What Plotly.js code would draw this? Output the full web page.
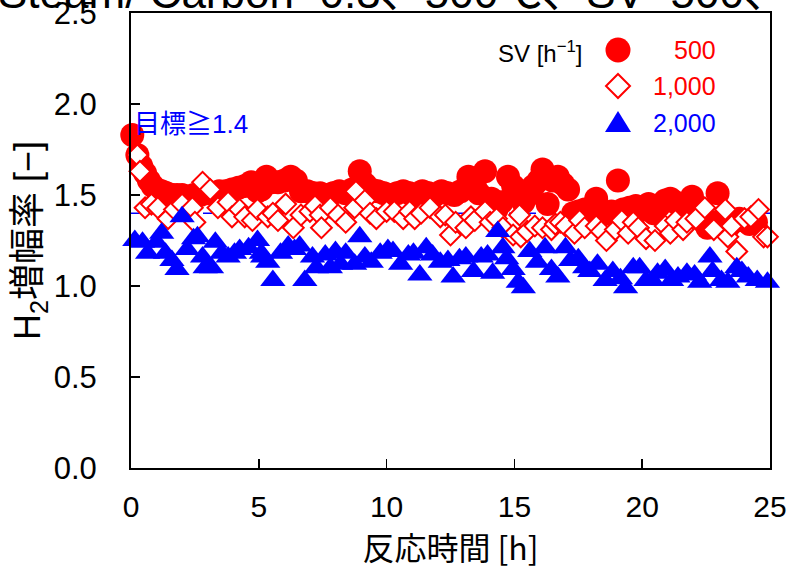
<!DOCTYPE html>
<html>
<head>
<meta charset="utf-8">
<script src="https://cdn.plot.ly/plotly-3.0.1.min.js"></script>
<style>html,body{margin:0;padding:0;background:#fff;}#chart{width:789px;height:573px;}</style>
</head>
<body>
<div id="chart"></div>
<script>
// ---- data ----
const seriesNames = ["500", "1,000", "2,000"];
const legendTitle = "SV [h<sup>−1</sup>]";
const titleText = "Steam/ Carbon=0.3、500℃、SV=500、";
const xTitle = "反応時間 [h]";
const yTitle = "H<sub>2</sub>増幅率 [−]";
const targetValue = 1.4;
const targetLabel = "目標≧1.4";

const x500 = [0.05,0.25,0.4,0.55,0.7,0.85,1.0,1.2,1.4,1.6,1.8,2.0,2.2,2.45,2.7,2.95,3.2,3.45,3.7,3.95,4.2,4.45,4.7,4.95,5.1,5.3,5.5,5.75,6.0,6.25,6.45,6.65,6.9,7.15,7.4,7.65,7.9,8.15,8.4,8.65,8.95,9.15,9.4,9.65,9.9,10.15,10.4,10.65,10.9,11.15,11.4,11.65,11.9,12.15,12.4,12.65,12.9,13.2,13.45,13.6,13.85,14.1,14.3,14.5,14.75,14.95,15.15,15.35,15.55,15.75,15.95,16.1,16.3,16.5,16.7,16.9,17.1,17.3,17.5,17.75,18.0,18.2,18.4,18.6,18.8,19.05,19.25,19.5,19.75,20.0,20.25,20.45,20.65,20.9,21.1,21.3,21.55,21.75,21.95,22.15,22.35,22.55,22.75,22.95,23.15,23.35,23.55,23.8,24.0,24.2,24.45];
const y500 = [1.83,1.72,1.66,1.62,1.58,1.55,1.53,1.52,1.51,1.50,1.50,1.50,1.49,1.50,1.50,1.51,1.51,1.52,1.52,1.53,1.54,1.55,1.57,1.52,1.53,1.60,1.57,1.57,1.58,1.60,1.58,1.52,1.52,1.51,1.51,1.50,1.51,1.52,1.51,1.53,1.63,1.56,1.53,1.52,1.51,1.50,1.51,1.52,1.51,1.50,1.52,1.51,1.50,1.52,1.51,1.50,1.52,1.60,1.55,1.51,1.63,1.48,1.42,1.46,1.60,1.55,1.50,1.46,1.50,1.55,1.58,1.64,1.45,1.58,1.60,1.56,1.53,1.40,1.41,1.42,1.40,1.48,1.41,1.40,1.41,1.58,1.42,1.43,1.44,1.42,1.45,1.40,1.44,1.47,1.48,1.46,1.37,1.43,1.49,1.41,1.36,1.32,1.35,1.51,1.33,1.32,1.35,1.37,1.36,1.34,1.35];

const x1000 = [0.25,0.35,0.55,0.8,1.05,1.45,1.7,2.0,2.4,2.5,2.8,3.1,3.4,3.8,3.95,4.25,4.45,4.75,4.95,5.35,5.55,5.75,6.05,6.35,6.65,7.0,7.2,7.4,7.45,7.8,8.1,8.4,8.75,8.8,9.15,9.35,9.6,10.0,10.3,10.65,10.9,11.1,11.35,11.7,12.1,12.3,12.5,12.7,13.1,13.3,13.45,13.85,14.05,14.3,14.55,14.95,15.2,15.25,15.5,15.8,16.1,16.45,16.6,16.8,17.0,17.35,17.55,17.75,18.2,18.4,18.6,18.95,19.2,19.45,19.65,19.85,20.15,20.5,20.9,21.1,21.3,21.6,21.75,22.1,22.45,22.8,23.25,23.35,23.5,23.7,24.0,24.25,24.55,24.75,24.9];
const y1000 = [1.72,1.63,1.43,1.45,1.43,1.37,1.42,1.45,1.43,1.35,1.57,1.53,1.43,1.46,1.38,1.42,1.38,1.36,1.42,1.38,1.40,1.36,1.45,1.32,1.39,1.41,1.44,1.39,1.32,1.43,1.39,1.35,1.43,1.52,1.47,1.40,1.37,1.41,1.41,1.37,1.41,1.37,1.40,1.43,1.38,1.39,1.28,1.35,1.32,1.38,1.36,1.41,1.35,1.37,1.32,1.28,1.39,1.27,1.30,1.33,1.32,1.31,1.34,1.35,1.33,1.29,1.36,1.32,1.33,1.30,1.25,1.31,1.36,1.29,1.35,1.32,1.26,1.25,1.33,1.29,1.36,1.31,1.35,1.37,1.43,1.31,1.42,1.27,1.33,1.19,1.37,1.38,1.42,1.27,1.27];

const x2000 = [0.15,0.45,0.65,1.0,1.2,1.35,1.6,1.8,2.0,2.2,2.45,2.6,2.8,2.9,3.15,3.3,3.55,3.8,4.05,4.25,4.6,4.95,5.1,5.15,5.35,5.55,5.85,6.15,6.4,6.6,6.8,7.1,7.25,7.6,7.8,8.0,8.2,8.4,8.75,8.95,9.15,9.4,9.75,10.05,10.25,10.55,10.85,11.05,11.3,11.55,11.8,12.1,12.4,12.6,12.85,13.1,13.4,13.7,13.95,14.15,14.35,14.55,14.7,14.95,15.15,15.35,15.6,15.9,16.2,16.45,16.7,17.0,17.2,17.5,17.75,17.95,18.25,18.55,18.85,19.15,19.35,19.65,19.9,20.15,20.4,20.6,20.9,21.15,21.4,21.75,22.05,22.25,22.65,22.75,23.1,23.35,23.7,23.9,24.15,24.5,24.9];
const y2000 = [1.25,1.24,1.18,1.24,1.29,1.18,1.14,1.09,1.38,1.20,1.26,1.27,1.16,1.10,1.10,1.24,1.18,1.16,1.18,1.20,1.21,1.25,1.18,1.16,1.13,1.03,1.18,1.22,1.20,1.22,1.03,1.16,1.10,1.17,1.10,1.19,1.12,1.18,1.12,1.27,1.16,1.13,1.18,1.20,1.19,1.12,1.17,1.18,1.06,1.21,1.17,1.13,1.14,1.05,1.15,1.16,1.08,1.16,1.17,1.07,1.30,1.21,1.15,1.09,1.02,0.99,1.19,1.13,1.21,1.09,1.05,1.21,1.14,1.15,1.10,1.08,1.12,1.03,1.08,1.04,0.99,1.10,1.10,1.03,1.03,1.07,1.09,1.03,1.05,1.07,1.06,1.02,1.16,1.08,1.03,1.02,1.10,1.08,1.05,1.03,1.02];

// ---- styling ----
const RED = "#ff0000", BLUE = "#0000ff";
const latin = "Liberation Sans, Arial, Noto Sans CJK JP, sans-serif";
const narrow = "Liberation Sans Narrow, Liberation Sans, sans-serif";
const cjk = "Noto Sans CJK JP, Liberation Sans, sans-serif";

const traces = [
  {x: x500, y: y500, name: seriesNames[0], type: "scatter", mode: "markers", cliponaxis: false,
   marker: {symbol: "circle", size: 24, color: RED, line: {width: 0}}},
  {x: x1000, y: y1000, name: seriesNames[1], type: "scatter", mode: "markers", cliponaxis: false,
   marker: {symbol: "diamond", size: 16, color: "#ffffff", line: {width: 2, color: RED}}},
  {x: x2000, y: y2000, name: seriesNames[2], type: "scatter", mode: "markers", cliponaxis: false,
   marker: {symbol: "triangle-up", size: 22, color: BLUE, line: {width: 0}}}
];

const W = 789, H = 573, L = 131, R = 19, T = 13, B = 105;
const pw = W - L - R, ph = H - T - B;
const px = v => (v - L) / pw;          // page pixel -> paper x
const py = v => (H - B - v) / ph;      // page pixel -> paper y

const legendRows = [
  {label: seriesNames[0], color: RED, y: 50},
  {label: seriesNames[1], color: RED, y: 86},
  {label: seriesNames[2], color: BLUE, y: 123}
];
const symX = 618, textRight = 718;

const annotations = [
  {text: titleText, xref: "paper", yref: "paper", x: px(-4), y: py(19), xanchor: "left", yanchor: "bottom",
   showarrow: false, font: {family: latin, size: 44, color: "#000"}},
  {text: targetLabel, xref: "x", yref: "y", x: 0.02, y: 1.89, xanchor: "left", yanchor: "middle",
   showarrow: false, font: {family: latin, size: 26, color: BLUE}},
  {text: legendTitle, xref: "paper", yref: "paper", x: px(585), y: py(52), xanchor: "right", yanchor: "middle",
   showarrow: false, font: {family: latin, size: 24, color: "#000"}}
];
legendRows.forEach(r => annotations.push({
  text: r.label, xref: "paper", yref: "paper", x: px(textRight), y: py(r.y), xanchor: "right", yanchor: "middle",
  showarrow: false, font: {family: latin, size: 25, color: r.color}
}));

const shapes = [
  {type: "line", xref: "x", yref: "y", x0: 0, x1: 25, y0: targetValue, y1: targetValue, layer: "below",
   line: {color: BLUE, width: 1.5, dash: "dash"}},
  {type: "circle", xref: "paper", yref: "paper", xsizemode: "pixel", ysizemode: "pixel",
   xanchor: px(symX), yanchor: py(legendRows[0].y), x0: -12.5, x1: 12.5, y0: -12.5, y1: 12.5,
   fillcolor: RED, line: {width: 0}},
  {type: "path", xref: "paper", yref: "paper", xsizemode: "pixel", ysizemode: "pixel",
   xanchor: px(symX), yanchor: py(legendRows[1].y), path: "M0,12 L12,0 L0,-12 L-12,0 Z",
   fillcolor: "#ffffff", line: {width: 2, color: RED}},
  {type: "path", xref: "paper", yref: "paper", xsizemode: "pixel", ysizemode: "pixel",
   xanchor: px(symX), yanchor: py(legendRows[2].y), path: "M-13,-9 L13,-9 L0,12 Z",
   fillcolor: BLUE, line: {width: 0}}
];

const layout = {
  width: W, height: H,
  margin: {l: L, r: R, t: T, b: B, pad: 0},
  paper_bgcolor: "#fff", plot_bgcolor: "#fff",
  showlegend: false,
  xaxis: {range: [0, 25], dtick: 5, tick0: 0, showgrid: false, zeroline: false,
    showline: true, linecolor: "#000", linewidth: 2, mirror: true,
    ticks: "inside", ticklen: 9, tickwidth: 1.5, tickcolor: "#000",
    ticklabelstandoff: 11, ticklabeloverflow: "allow",
    tickfont: {family: narrow, size: 30, color: "#000"},
    title: {text: xTitle, font: {family: cjk, size: 32, color: "#000"}, standoff: 14}},
  yaxis: {range: [0, 2.5], dtick: 0.5, tick0: 0, tickformat: ".1f", showgrid: false, zeroline: false,
    showline: true, linecolor: "#000", linewidth: 2, mirror: true,
    ticks: "inside", ticklen: 9, tickwidth: 1.5, tickcolor: "#000",
    ticklabelstandoff: 26, ticklabeloverflow: "allow",
    tickfont: {family: narrow, size: 31, color: "#000"},
    title: {text: yTitle, font: {family: latin, size: 36, color: "#000"}, standoff: 2}},
  annotations: annotations,
  shapes: shapes
};

Plotly.newPlot("chart", traces, layout, {displayModeBar: false, staticPlot: true});
</script>
</body>
</html>
